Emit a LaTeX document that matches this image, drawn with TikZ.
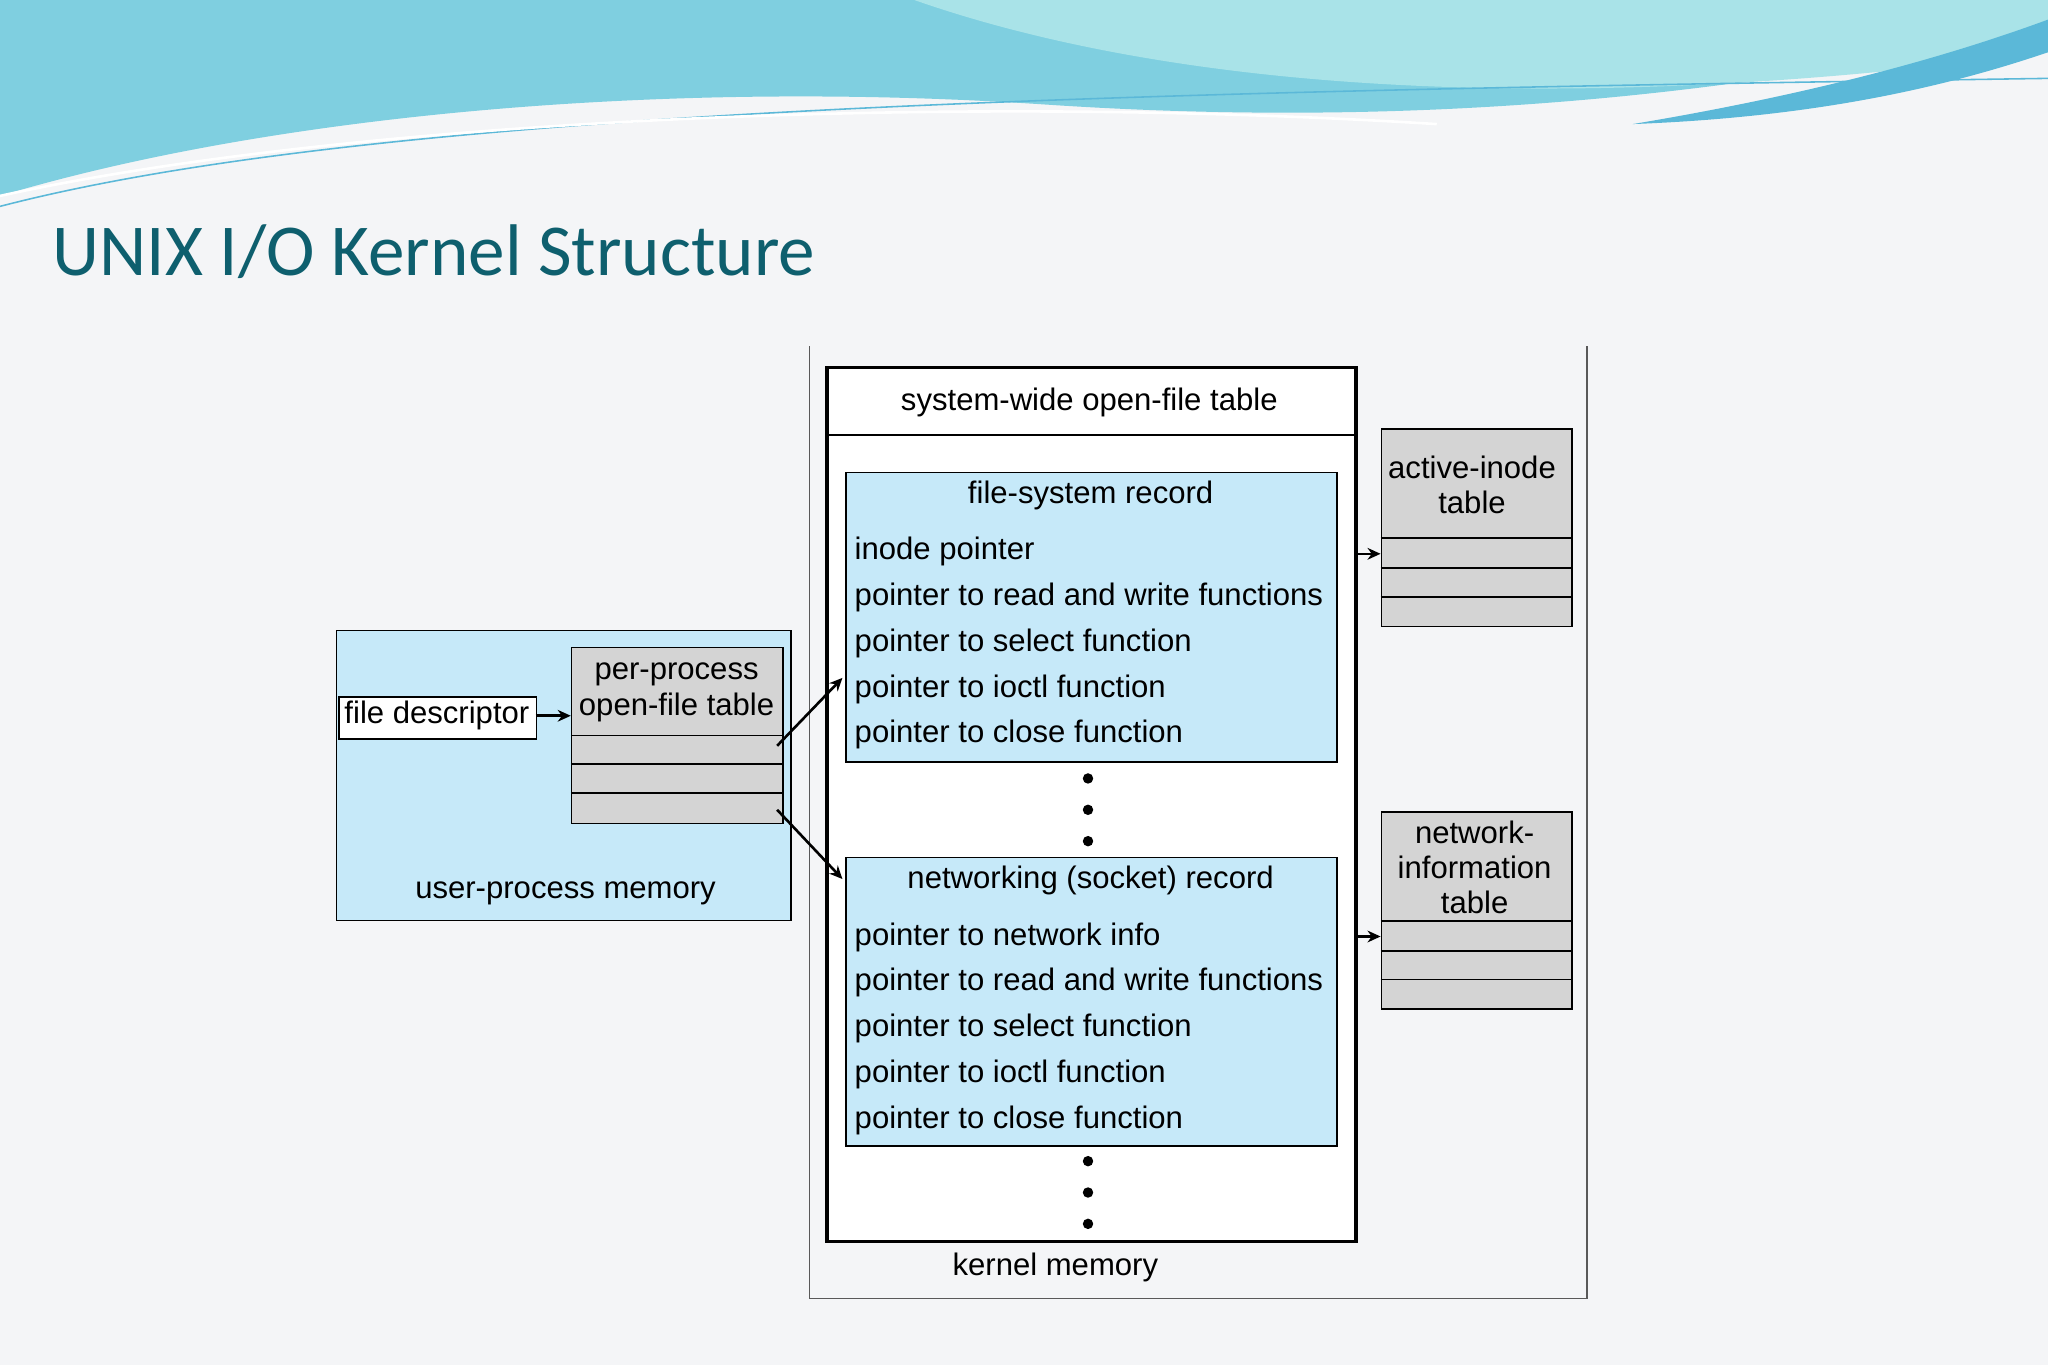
\documentclass[tikz,border=0pt]{standalone}
\usepackage{fontspec}
\setmainfont{Liberation Sans}
\newfontfamily\titlefont{Carlito}
\usetikzlibrary{arrows.meta}
\definecolor{bg}{HTML}{F4F5F7}
\definecolor{lblue}{HTML}{C6E9F9}
\definecolor{lgray}{HTML}{D4D4D4}
\definecolor{teal}{HTML}{0E5F6E}
\definecolor{wave1}{HTML}{7FCFE0}
\definecolor{wave2}{HTML}{A9E3E8}
\definecolor{wave3}{HTML}{5BB8D8}
\begin{document}
\begin{tikzpicture}[x=0.5pt,y=-0.5pt,
  box/.style={draw,line width=0.6pt,anchor=north west,inner sep=0pt},
  txt/.style={font=\fontsize{11.9}{13.5}\selectfont,inner sep=0pt},
  arr/.style={-{Stealth[length=5pt,width=4.5pt]},line width=1pt}]
\useasboundingbox (0,0) rectangle (1568,1045);
\fill[bg] (0,0) rectangle (1568,1045);
% top waves
\fill[wave1] (0,0) -- (0,150) .. controls (200,90) and (500,60) .. (800,80) .. controls (1100,100) and (1350,70) .. (1568,20) -- (1568,0) -- cycle;
\fill[wave2] (700,0) .. controls (900,70) and (1200,90) .. (1568,40) -- (1568,0) -- cycle;
\fill[wave3] (1250,95) .. controls (1400,70) and (1500,40) .. (1568,15) -- (1568,40) .. controls (1480,70) and (1380,90) .. (1250,95) -- cycle;
\draw[wave3,line width=0.6pt] (0,158) .. controls (300,80) and (900,70) .. (1568,60);
\draw[white,line width=1pt] (0,150) .. controls (250,95) and (700,70) .. (1100,95);
\node[anchor=west,text=teal,font=\titlefont\fontsize{28}{32}\selectfont,inner sep=0pt] (title) at (40,193) {UNIX I/O Kernel Structure};
% kernel memory frame
\draw[line width=0.5pt,gray!70!black] (620,265) -- (620,994) -- (1215,994) -- (1215,265);
\node[txt] (km) at (808,970) {kernel memory};
% system-wide table
\node[box,line width=1.4pt,fill=white,minimum width=202.5pt,minimum height=334.5pt] (sw) at (632,280) {};
\draw[line width=0.6pt] (632,333) -- (1037,333);
\node[txt] (swl) at (834,308) {system-wide open-file table};
% fs record
\node[box,fill=lblue,minimum width=188pt,minimum height=111pt] (fs) at (647,361) {};
\node[txt] (fst) at (835,379) {file-system record};
\node[txt,anchor=north west,align=left,font=\fontsize{11.9}{17.5}\selectfont] (fsl) at (654,411) {inode pointer\\pointer to read and write functions\\pointer to select function\\pointer to ioctl function\\pointer to close function};
\foreach \y in {596,620,644}{\fill (833,\y) circle (2pt);}
% net record
\node[box,fill=lblue,minimum width=188pt,minimum height=110.5pt] (net) at (647,656) {};
\node[txt] (nett) at (835,674) {networking (socket) record};
\node[txt,anchor=north west,align=left,font=\fontsize{11.9}{17.5}\selectfont] (netl) at (654,706) {pointer to network info\\pointer to read and write functions\\pointer to select function\\pointer to ioctl function\\pointer to close function};
\foreach \y in {889,913,937}{\fill (833,\y) circle (2pt);}
% active inode
\node[box,fill=lgray,minimum width=73pt,minimum height=75.5pt] (ai) at (1057,328) {};
\draw[line width=0.6pt] (1057,412) -- (1203,412) (1057,435) -- (1203,435) (1057,457) -- (1203,457);
\node[txt,align=center] (ail) at (1127,371) {active-inode\\table};
\coordinate (aiin) at (1057,424);
% network info
\node[box,fill=lgray,minimum width=73pt,minimum height=75.5pt] (ni) at (1057,621) {};
\draw[line width=0.6pt] (1057,705) -- (1203,705) (1057,728) -- (1203,728) (1057,750) -- (1203,750);
\node[txt,align=center,font=\fontsize{11.9}{13.5}\selectfont] (nil) at (1129,664) {network-\\information\\table};
\coordinate (niin) at (1057,717);
\coordinate (o1) at (1037,424);
\coordinate (o2) at (1037,717);
\draw[arr] (o1) -- (aiin);
\draw[arr] (o2) -- (niin);
% user process
\node[box,fill=lblue,minimum width=174pt,minimum height=111pt] (up) at (257,482) {};
\node[txt] (upl) at (433,684) {user-process memory};
\node[box,fill=lgray,minimum width=81pt,minimum height=67.5pt] (pp) at (437,495) {};
\draw[line width=0.6pt] (437,563) -- (599,563) (437,585) -- (599,585) (437,607) -- (599,607);
\node[txt,align=center] (ppl) at (518,530) {per-process\\open-file table};
\node[box,fill=white,minimum width=75.5pt,minimum height=16pt] (fd) at (259,533) {};
\node[txt] (fdl) at (334.5,548) {file descriptor};
\coordinate (fdo) at (410,548);
\coordinate (ppi) at (437,548);
\draw[arr] (fdo) -- (ppi);
\coordinate (r1) at (595,571);
\coordinate (r2) at (595,620);
\coordinate (t1) at (645,519);
\coordinate (t2) at (645,673);
\draw[arr] (r1) -- (t1);
\draw[arr] (r2) -- (t2);
\end{tikzpicture}
\end{document}
